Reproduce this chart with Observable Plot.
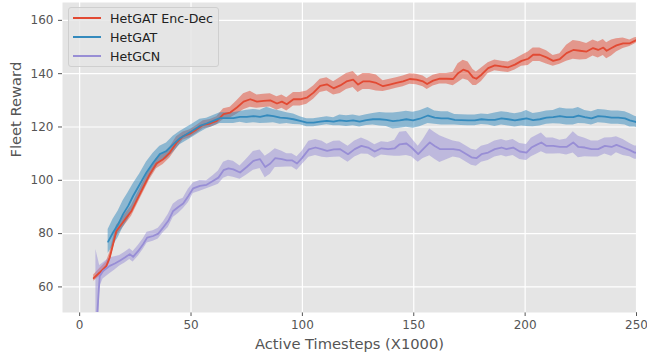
<!DOCTYPE html>
<html><head><meta charset="utf-8">
<script src="https://cdn.jsdelivr.net/npm/d3@7"></script>
<script src="https://cdn.jsdelivr.net/npm/@observablehq/plot@0.6"></script>
<style>
body{margin:0;background:#fff;font-family:"DejaVu Sans",sans-serif;}
#wrap{position:relative;width:647px;height:360px;overflow:hidden;}
#legend{position:absolute;left:68px;top:7px;width:149px;height:58px;background:rgba(229,229,229,0.8);border:1px solid #cfcfcf;border-radius:3px;}
.row{position:absolute;left:0;height:19px;}
.sw{position:absolute;left:4px;top:8px;width:28px;height:2px;}
.lab{position:absolute;left:41px;top:0;font-size:12.6px;line-height:19px;color:#222;white-space:nowrap;}
</style></head><body><div id="wrap"></div>
<script>
const seriesNames = ["HetGAT Enc-Dec", "HetGAT", "HetGCN"];
const seriesColors = ["#E24A33", "#348ABD", "#988ED5"];
const xTicks = [0, 50, 100, 150, 200, 250];
const yTicks = [60, 80, 100, 120, 140, 160];
const xLabel = "Active Timesteps (X1000)";
const yLabel = "Fleet Reward";

// HetGAT Enc-Dec
const encDecX = [6.3,9,12,13.5,15,16.5,18.8,21,23.3,25.5,
 28.5,31.5,34.5,37.5,40.5,43.5,46.5,49.5,52.5,55.5,
 58.6,61.6,64.6,67.6,70.6,73.6,76.6,79.6,82.6,85.6,
 88.6,90.8,93,96,99,102,105,108,111,114,
 117,119.8,122.8,125,127.2,130.2,133.2,136.2,139.2,142.2,
 145.2,148.2,151.2,154.2,156,158.7,161.7,164.7,167.7,169.9,
 172.2,174.4,176.6,178.1,180.4,183.4,186.4,189.4,192.4,195.4,
 198.4,201.4,203.6,206.6,209.6,212.6,215.6,218.6,221.6,224.6,
 227.6,230.5,232.8,235.1,236.6,238.8,241,244,247,249.2,
 250];
const encDecY = [63.3,65.4,67.9,71,76,81,83.5,86,88.5,92.3,
 97.3,102.3,106.3,107.9,110.4,114.1,116.6,117.5,119.1,120.8,
 121.3,122.3,124.8,125.4,127.3,129.5,130.4,129.5,129.8,130,
 128.8,129.5,128.5,130.4,130.4,131,132.9,135.4,136,134.5,
 135.6,137.1,137.8,135.9,137.1,137.1,136.5,135.3,135.9,136.5,
 137.1,138,137.8,137.1,136.1,137.4,138.1,138.1,138,140.2,
 141.5,140.9,138.6,138.1,139.6,142.1,143.1,142.7,142.4,143.4,
 144.8,145.6,147.1,147.1,146.1,144.8,145.5,147.7,148.9,148.6,
 148.3,149.6,148.9,149.8,148.6,149.6,150.6,151.4,151.4,152.3,
 152.6];
const encDecSd = [1.2,1.5,1.5,1.8,2,2,2,2,2,2,
 2,2,2,2,2,2.2,1.5,1.5,1.5,1.5,
 1.5,1.5,2,2,2.5,3,3,2.5,2.5,2.5,
 2.5,2.5,2.5,2.5,2.5,2.5,2.5,2.5,2.5,2.5,
 3,3,3,3,3,3,3,2,2,2,
 2,2,2,2,2,2,2,2,2.5,3.5,
 3.5,3.5,3,2.5,2.5,2,2,2,2,2,
 2,2.5,2.5,2.5,2.5,2,2,3,3.5,3.5,
 3,3,3,3,3,3,2.5,2,1.2,1.2,
 1];

// HetGAT
const gatX = [12.8,15,17.3,19.5,21.8,24,27,30,33,36,
 39,42,45,48,51,54,57,60,63,66,
 69,72,75,78,81,84,87,90,93,96,
 99,102,105,108,111,114,116.8,119.8,122.8,125.7,
 128.7,131.7,134.7,137.7,140.7,143.7,146.7,149.7,152.7,156.4,
 159.4,162.4,165.4,168.4,171.4,174.4,177.4,180.4,183.4,186.4,
 189.4,192.4,195.4,198.4,200.6,203.6,206.6,209.6,212.6,215.6,
 218.6,221.6,223.9,226.8,229.8,232.8,235.8,238.8,241.8,244.8,
 247,249.2,250];
const gatY = [77,80.4,83.5,87.3,90.4,94.1,98.5,102.9,106.6,109.8,
 111,113.5,115.8,117.3,118.8,120.4,121.3,122.3,123.3,123.3,
 123.3,123.8,123.8,124.1,123.8,124.4,124.1,123.5,123.3,122.9,
 122.3,121.6,121.6,122,122.3,122,122.5,122.2,122.5,122,
 122.6,122.9,122.9,122.7,122.2,122.5,122.9,122.5,123.1,124.3,
 123.5,123.2,123.2,122.7,122.6,122.5,122.5,122.9,122.7,122.7,
 123.2,122.9,122.5,122.9,123.2,122.6,122.9,123.5,123.7,124.1,
 123.7,123.7,124.3,123.7,123.2,124.1,123.9,123.5,123.5,123.2,
 122.5,122,121.8];
const gatSd = [4.5,5,5,5,5,4.5,4,4,3.5,3,
 3,3,2.5,2.5,2.5,2.5,2,2,2,2,
 2,2,2.5,2.5,2.5,3,2.5,2.5,2,2,
 1.5,1.5,1.5,1.5,1.5,1.5,2,2,2,2,
 2,2.2,2.5,2.5,3,3,3,3,3,3,
 2.5,2.5,2.5,2,2,2,2,2,2,2.5,
 2.5,2.5,2.5,2.5,3,2.5,2.5,2.5,2.5,3,
 3,3,3,2.5,2.5,2.5,2.5,2.5,2.5,2.5,
 2.5,2,2];

// HetGCN
const gcnX = [7.3,9,10.5,13.5,15.8,18,20.3,22.5,24,26.3,
 28.5,30.3,33,35.3,37.5,39.8,42,44.3,46.5,48.8,
 51,54,57,60,62.3,64.6,66.8,69,72,75,
 78,81,83.3,85.6,87.8,90.8,93,95.3,97.6,99.8,
 102.9,105.9,108.9,111.1,114.1,116.8,120.5,123.5,126.5,129.5,
 132.5,135.5,138.5,141.5,143.7,146.7,149,152,154.2,157.2,
 159.4,161.7,164.7,167.7,170.7,173.7,175.9,178.1,180.4,183.4,
 186.4,189.4,191.6,194.6,197.6,200.6,202.8,205.1,207.3,209.6,
 212.6,215.6,218.6,221.6,223.9,226.8,229.8,232.8,235.8,238.8,
 241,244,247,249.2,250];
const gcnY = [42,64,66,67.9,68.8,69.8,71,72.3,71.3,73.5,
 76,78.5,79.1,80,82.3,84.8,88.5,90,91.3,94.1,
 97,97.9,98.3,99.8,101,103.8,104.5,104.1,102.9,105,
 107.3,107.9,105,106.3,108.3,107.9,107.5,107.5,106.3,108.3,
 111.6,112.3,111.6,111,111.6,111.7,109.8,111.7,112.9,112.3,
 110.8,112,111.7,112,113.5,113.8,112.3,109.8,111.7,114.2,
 112.9,111.7,111.7,111.7,111.3,109.8,108.6,108.3,109.8,110.4,
 111.7,112.3,111.7,112.3,110.8,110.4,112.3,113.3,114.2,112.9,
 112.9,112.5,112.5,114.2,112.5,112.3,111.7,111.7,112.9,112.5,
 113.3,112.3,111.3,110.4,110.4];
const gcnSd = [32,4,3,3,2.5,2,2,2,2,2,
 2,2,2,2,2,2.5,2.5,2.5,2,2.5,
 2,2,1.5,2,2.5,3,3,3,2.5,3,
 3.5,3.5,4,4,3.5,3,2.5,2.5,2.5,2.5,
 3,3,3,2.5,3,3,3,3,3,2.5,
 2.5,2.5,2.5,3,4.5,4.5,3.5,3,3.5,5,
 5,5,4,3,3,3,3,3,3,3,
 3,3,3,3,3,3,3.5,3.5,3.5,3,
 3,2.5,3,4,4,3.5,3,3,3,3.5,
 3,3,2.5,2.5,2.5];

const allX = [encDecX, gatX, gcnX];
const allY = [encDecY, gatY, gcnY];
const allSd = [encDecSd, gatSd, gcnSd];

const rows = [];
seriesNames.forEach((name, i) => {
  if (allX[i].length !== allY[i].length || allX[i].length !== allSd[i].length)
    throw new Error("length mismatch " + name);
  allX[i].forEach((x, j) => {
    const y = allY[i][j], s = allSd[i][j];
    rows.push({series: name, x, y, lo: y - s, hi: y + s});
  });
});

const chart = Plot.plot({
  width: 647,
  height: 360,
  marginLeft: 62,
  marginRight: 11,
  marginTop: 2,
  marginBottom: 48,
  style: {fontFamily: "DejaVu Sans", fontSize: "12px", color: "#555", background: "white", overflow: "visible"},
  x: {domain: [-7.7, 250], ticks: xTicks, tickSize: 4, tickPadding: 4, label: null},
  y: {domain: [50.4, 166.7], ticks: yTicks, tickSize: 4, tickPadding: 5, label: null},
  color: {domain: seriesNames, range: seriesColors},
  marks: [
    Plot.frame({fill: "#E5E5E5", stroke: null}),
    Plot.ruleX(xTicks, {stroke: "white", strokeWidth: 1.2}),
    Plot.ruleY(yTicks, {stroke: "white", strokeWidth: 1.2}),
    Plot.areaY(rows, {x: "x", y1: "lo", y2: "hi", z: "series", fill: "series", fillOpacity: 0.5, clip: true}),
    Plot.line(rows, {x: "x", y: "y", z: "series", stroke: "series", strokeWidth: 1.8, clip: true}),
    Plot.text([xLabel], {text: d => d, frameAnchor: "bottom", dy: 36, fontSize: 14.7, fill: "#555"}),
    Plot.text([yLabel], {text: d => d, frameAnchor: "left", dx: -46, rotate: -90, fontSize: 14.7, fill: "#555"})
  ]
});

const wrap = document.getElementById("wrap");
wrap.appendChild(chart);

const legend = document.createElement("div");
legend.id = "legend";
seriesNames.forEach((name, i) => {
  const row = document.createElement("div");
  row.className = "row";
  row.style.top = (1 + i * 19) + "px";
  const sw = document.createElement("div");
  sw.className = "sw";
  sw.style.background = seriesColors[i];
  const lab = document.createElement("div");
  lab.className = "lab";
  lab.textContent = name;
  row.appendChild(sw);
  row.appendChild(lab);
  legend.appendChild(row);
});
wrap.appendChild(legend);
</script></body></html>
